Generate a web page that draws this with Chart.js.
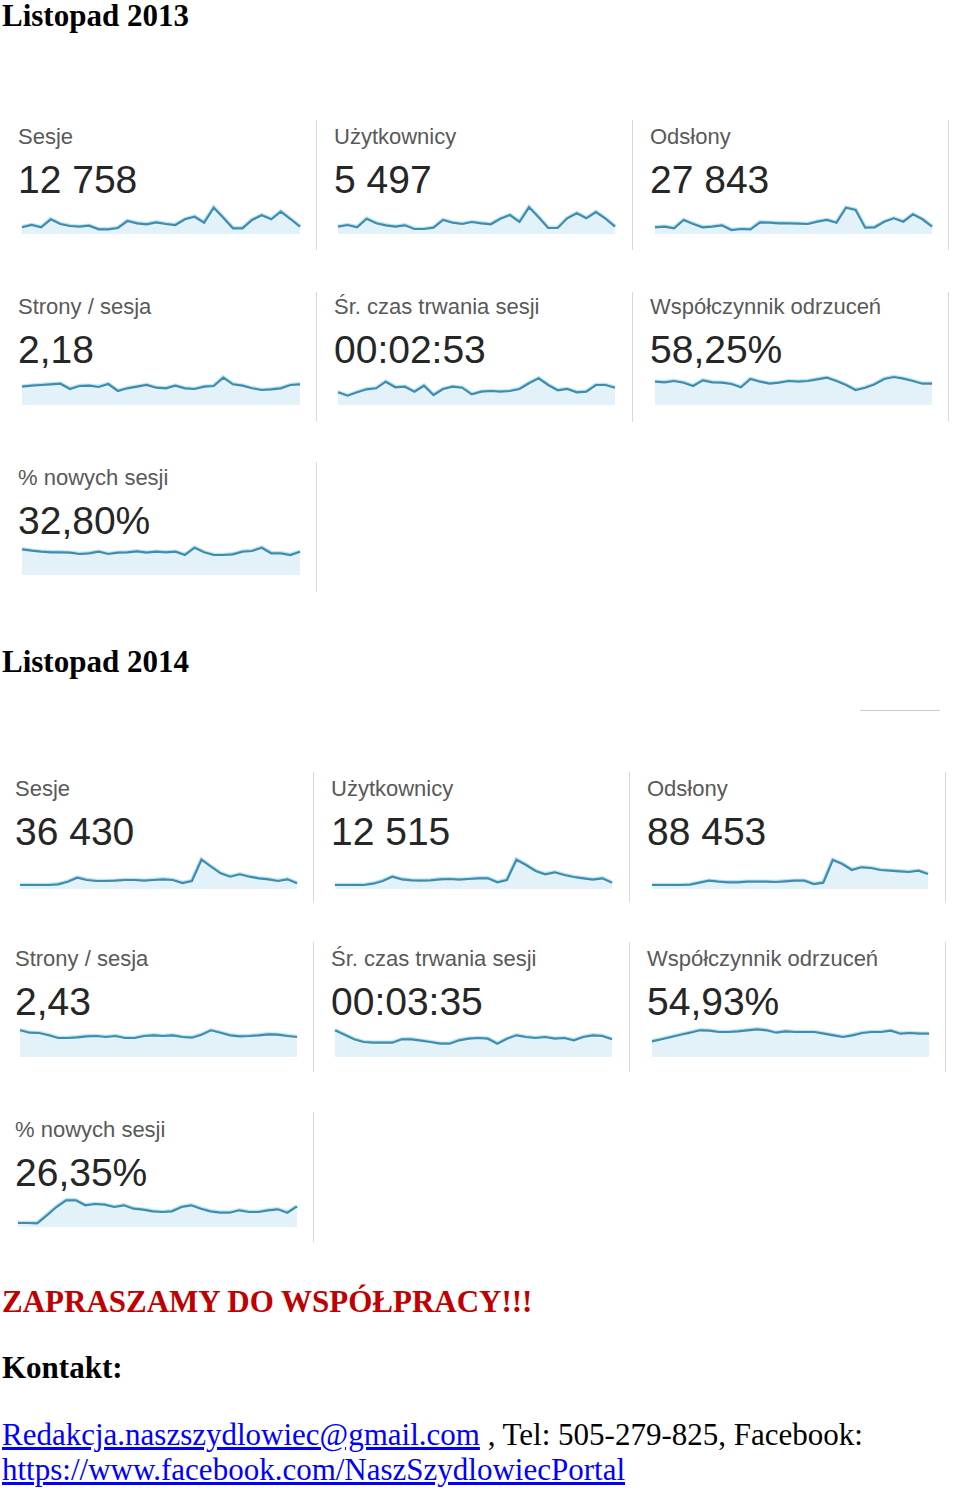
<!DOCTYPE html>
<html>
<head>
<meta charset="utf-8">
<script src="https://cdn.jsdelivr.net/npm/chart.js@4"></script>
<style>
body{margin:0;background:#fff;width:960px;height:1492px;position:relative;overflow:hidden;font-family:"Liberation Serif","Times New Roman",serif}
.h{position:absolute;left:2px;font-weight:bold;font-size:31px;line-height:32px;color:#000;white-space:nowrap}
.lab{position:absolute;font-family:"Liberation Sans",Arial,sans-serif;font-size:22px;line-height:24px;color:#595959;white-space:nowrap}
.val{position:absolute;font-family:"Liberation Sans",Arial,sans-serif;font-size:39px;line-height:44px;color:#262626;white-space:nowrap}
.sep{position:absolute;width:1px;background:#d8d8d8}
.txt{position:absolute;left:2px;font-size:31px;line-height:34px;white-space:nowrap;color:#000}
.txt a{color:#0000ff;text-decoration:underline}
canvas{position:absolute}
</style>
</head>
<body>
<div class="h" style="top:0px">Listopad 2013</div>
<div class="h" style="top:646px">Listopad 2014</div>
<div style="position:absolute;left:860px;top:710px;width:80px;height:1px;background:#ccc"></div>

<div class="h" style="top:1286px;color:#c00000">ZAPRASZAMY DO WSPÓŁPRACY!!!</div>
<div class="h" style="top:1352px">Kontakt:</div>
<div class="txt" style="top:1418px"><a href="#">Redakcja.naszszydlowiec@gmail.com</a> , Tel: 505-279-825, Facebook:</div>
<div class="txt" style="top:1453px"><a href="#">https://www.facebook.com/NaszSzydlowiecPortal</a></div>

<script>
// dni listopada
var dni = ['1','2','3','4','5','6','7','8','9','10','11','12','13','14','15','16','17','18','19','20','21','22','23','24','25','26','27','28','29','30'];

// listopad 2013 (wysokosc linii)
var sesje2013 = [6.7,9.0,6.7,14.7,10.0,8.0,7.3,8.3,4.7,4.7,6.0,13.0,10.7,9.7,11.7,10.0,9.0,14.7,17.3,11.3,26.3,16.3,5.7,5.7,14.0,18.7,14.7,22.3,15.0,7.3];
var uzytkownicy2013 = [7.3,9.0,6.7,15.3,10.7,8.7,7.3,8.7,5.0,5.0,6.3,14.0,11.3,10.0,12.0,10.7,9.7,15.3,19.0,12.0,26.7,16.7,6.0,6.0,15.7,20.7,15.7,22.0,15.3,7.3];
var odslony2013 = [6.7,7.3,5.7,14.0,10.0,6.7,7.3,8.7,4.0,5.0,4.7,11.7,11.3,10.7,10.7,10.3,10.0,12.3,14.0,11.3,26.3,24.0,6.3,6.7,12.3,15.7,12.3,19.7,14.7,7.3];
var strony2013 = [18.3,19.3,20.0,20.7,21.3,16.0,19.0,19.3,18.0,21.0,14.0,16.7,18.3,20.0,17.3,16.7,19.3,16.7,16.0,18.3,19.0,27.3,20.7,19.3,16.7,15.0,15.7,16.7,20.0,20.7];
var czas2013 = [12.7,9.3,12.7,15.7,16.7,23.3,17.7,18.3,13.3,19.3,10.0,16.0,18.3,17.3,10.7,13.3,14.0,13.3,14.0,16.0,21.7,26.7,20.0,14.7,16.0,12.7,13.3,20.0,20.0,17.3];
var odrzucenia2013 = [23.3,22.7,24.0,22.3,19.0,24.7,22.7,22.3,21.0,17.7,26.0,23.3,21.3,22.3,24.0,23.3,24.0,25.7,27.3,24.0,20.0,15.0,17.3,20.7,26.0,28.0,26.3,24.0,21.3,21.3];
var nowe2013 = [25.7,24.3,23.3,22.7,22.7,22.3,21.0,21.7,23.3,21.0,22.3,22.7,23.7,22.3,23.3,22.7,23.3,20.0,27.3,22.7,20.0,20.0,20.7,23.3,24.0,27.3,21.7,21.7,20.0,23.3];

// listopad 2014
var sesje2014 = [4.0,4.0,4.0,4.0,4.7,7.3,11.3,9.0,8.0,8.0,8.3,9.0,9.0,8.3,9.0,9.7,9.0,6.0,8.0,29.3,22.3,15.7,12.3,14.7,12.3,10.7,9.7,8.0,9.7,5.7];
var uzytkownicy2014 = [4.0,4.0,4.0,4.0,5.3,8.0,12.3,9.7,8.7,8.3,8.7,9.7,10.0,9.3,10.0,10.7,10.7,6.7,9.0,29.3,24.0,18.0,14.7,16.7,14.0,12.0,10.7,9.3,10.7,6.3];
var odslony2014 = [4.0,4.0,4.0,4.0,4.3,6.3,8.3,7.3,6.7,6.7,7.3,7.3,7.3,7.0,7.7,8.3,8.3,5.0,6.3,29.0,25.0,19.0,21.7,21.0,19.0,18.3,17.7,17.0,18.3,15.0];
var strony2014 = [26.7,24.3,24.0,21.7,19.0,19.0,19.7,20.7,21.0,20.0,21.0,19.0,19.0,21.0,21.7,21.0,21.7,20.0,19.3,22.3,26.7,24.3,21.7,20.7,21.0,21.7,22.7,22.3,21.0,20.0];
var czas2014 = [26.7,22.3,17.7,15.0,14.3,14.3,14.3,17.7,17.7,16.3,15.0,13.3,13.3,16.7,18.3,19.0,18.3,13.3,18.3,21.7,20.0,19.0,20.0,18.3,19.0,16.7,20.0,21.7,21.0,17.7];
var odrzucenia2014 = [15.7,17.7,20.0,22.3,24.3,26.7,26.3,25.0,25.0,25.7,26.7,27.7,26.7,24.3,25.7,25.0,25.0,25.0,23.3,21.7,20.0,21.7,24.0,25.0,25.0,26.3,23.3,24.0,23.3,23.3];
var nowe2014 = [4.0,4.0,3.7,11.7,20.0,26.7,26.7,21.7,23.0,22.3,20.0,21.7,18.3,17.3,15.7,15.0,15.7,20.0,21.7,18.3,15.7,14.3,14.3,16.7,15.0,15.0,16.7,17.7,14.3,20.7];

// kafelki: tekst, wartosc, dane, pozycja
var kafelki = [
    {lab:'Sesje', val:'12 758', dane:sesje2013, x:18, y:137, x0:22, x1:300, dol:234},
    {lab:'Użytkownicy', val:'5 497', dane:uzytkownicy2013, x:334, y:137, x0:338, x1:615, dol:234},
    {lab:'Odsłony', val:'27 843', dane:odslony2013, x:650, y:137, x0:655, x1:932, dol:234},
    {lab:'Strony / sesja', val:'2,18', dane:strony2013, x:18, y:307, x0:22, x1:300, dol:405},
    {lab:'Śr. czas trwania sesji', val:'00:02:53', dane:czas2013, x:334, y:307, x0:338, x1:615, dol:405},
    {lab:'Współczynnik odrzuceń', val:'58,25%', dane:odrzucenia2013, x:650, y:307, x0:655, x1:932, dol:405},
    {lab:'% nowych sesji', val:'32,80%', dane:nowe2013, x:18, y:478, x0:22, x1:300, dol:575},

    {lab:'Sesje', val:'36 430', dane:sesje2014, x:15, y:789, x0:20, x1:297, dol:889},
    {lab:'Użytkownicy', val:'12 515', dane:uzytkownicy2014, x:331, y:789, x0:335, x1:612, dol:889},
    {lab:'Odsłony', val:'88 453', dane:odslony2014, x:647, y:789, x0:652, x1:928, dol:889},
    {lab:'Strony / sesja', val:'2,43', dane:strony2014, x:15, y:959, x0:20, x1:297, dol:1057},
    {lab:'Śr. czas trwania sesji', val:'00:03:35', dane:czas2014, x:331, y:959, x0:335, x1:612, dol:1057},
    {lab:'Współczynnik odrzuceń', val:'54,93%', dane:odrzucenia2014, x:647, y:959, x0:652, x1:929, dol:1057},
    {lab:'% nowych sesji', val:'26,35%', dane:nowe2014, x:15, y:1130, x0:18, x1:297, dol:1227}
];

// pionowe linie miedzy kafelkami
var linie = [
    [316,120,250],[632,120,250],[948,120,250],
    [316,292,422],[632,292,422],[948,292,422],
    [316,462,592],
    [313,772,902],[629,772,902],[945,772,902],
    [313,942,1072],[629,942,1072],[945,942,1072],
    [313,1112,1242]
];

for(var k=0;k<linie.length;k++){
    var d = document.createElement('div');
    d.className = 'sep';
    d.style.left = linie[k][0]+'px';
    d.style.top = linie[k][1]+'px';
    d.style.height = (linie[k][2]-linie[k][1])+'px';
    document.body.appendChild(d);
}

var WYS = 40;
for(var i=0;i<kafelki.length;i++){
    var t = kafelki[i];
    var l = document.createElement('div');
    l.className = 'lab';
    l.style.left = t.x+'px';
    l.style.top = (t.y-12)+'px';
    l.textContent = t.lab;
    document.body.appendChild(l);

    var v = document.createElement('div');
    v.className = 'val';
    v.style.left = t.x+'px';
    v.style.top = (t.y+21)+'px';
    v.textContent = t.val;
    document.body.appendChild(v);

    var cv = document.createElement('canvas');
    var w = t.x1 - t.x0 + 4;
    cv.width = w; cv.height = WYS;
    cv.style.width = w+'px'; cv.style.height = WYS+'px';
    cv.style.left = (t.x0-2)+'px';
    cv.style.top = (t.dol-WYS)+'px';
    document.body.appendChild(cv);

    new Chart(cv, {
        type: 'line',
        data: {
            labels: dni,
            datasets: [{
                // linia glowna
                data: t.dane,
                borderColor: '#3f8cad',
                borderWidth: 2.2,
                backgroundColor: '#e3f1f9',
                fill: 'origin',
                pointRadius: 0,
                tension: 0,
                order: 1
            },{
                // jasna poswiata pod linia
                data: t.dane,
                borderColor: 'rgba(130,205,235,0.55)',
                borderWidth: 4.5,
                fill: false,
                pointRadius: 0,
                tension: 0,
                order: 2
            }]
        },
        options: {
            responsive: false,
            devicePixelRatio: 1,
            animation: false,
            events: [],
            layout: {padding: {left: 2, right: 2, top: 0, bottom: 0}},
            plugins: {legend: {display: false}, tooltip: {enabled: false}},
            scales: {
                x: {display: false, offset: false},
                y: {display: false, min: 0, max: WYS}
            }
        }
    });
}
</script>
</body>
</html>
